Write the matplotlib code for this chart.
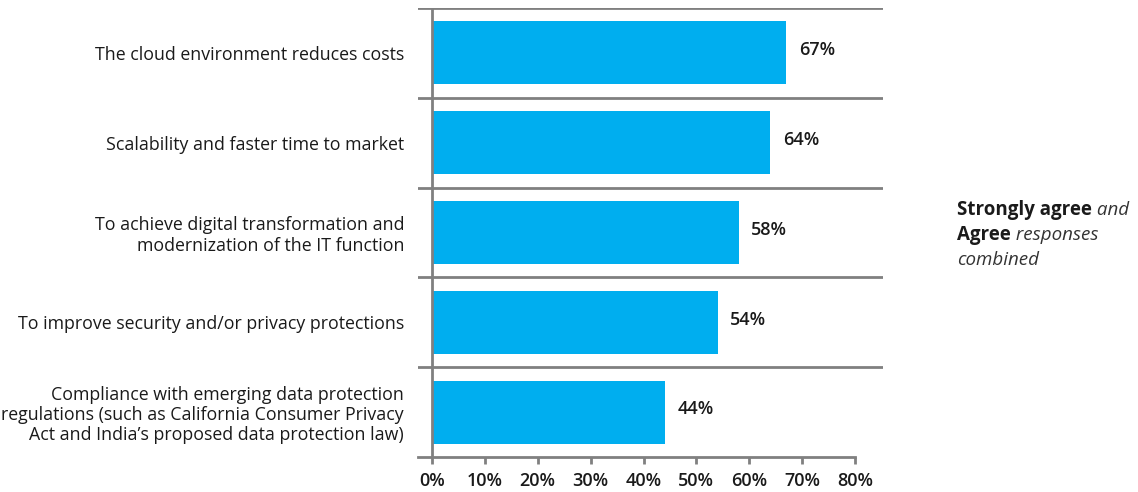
import matplotlib.pyplot as plt
from matplotlib.ticker import FuncFormatter

categories = [
    "The cloud environment reduces costs",
    "Scalability and faster time to market",
    "To achieve digital transformation and\nmodernization of the IT function",
    "To improve security and/or privacy protections",
    "Compliance with emerging data protection\nregulations (such as California Consumer Privacy\nAct and India\u2019s proposed data protection law)",
]
values = [67, 64, 58, 54, 44]
x_ticks = [0, 10, 20, 30, 40, 50, 60, 70, 80]

BAR_COLOR = "#00AEEF"
LINE_COLOR = "#808080"
TEXT_COLOR = "#1a1a1a"

plt.rcParams["font.family"] = ["Open Sans", "DejaVu Sans"]

W, H = 1138, 492
fig = plt.figure(figsize=(W / 100, H / 100), dpi=100)

# axes span the separator lines; the plotted range runs slightly past 0..80
left_px, right_px, top_px, bottom_px = 418, 883, 8, 457
ax = fig.add_axes([left_px / W, 1 - bottom_px / H,
                   (right_px - left_px) / W, (bottom_px - top_px) / H])
px_per_pct = (855 - 432) / 80
x_lo = -(432 - left_px) / px_per_pct
x_hi = 80 + (right_px - 855) / px_per_pct
ax.set_xlim(x_lo, x_hi)

n = len(categories)
ypos = list(range(n))
ax.set_ylim(n - 0.5, -0.5)

ax.barh(ypos, values, height=0.7, color=BAR_COLOR, zorder=2)

for y, v in zip(ypos, values):
    ax.annotate(f"{v}%", xy=(v, y), xytext=(9, 2), textcoords="offset points",
                ha="left", va="center", fontsize=13, fontweight="semibold",
                color=TEXT_COLOR)

# category separators and the zero line
for b in range(n):
    ax.axhline(b - 0.5, color=LINE_COLOR, lw=2, zorder=3)
ax.axvline(0, color=LINE_COLOR, lw=2, zorder=3)

for s in ["top", "right", "left"]:
    ax.spines[s].set_visible(False)
ax.spines["bottom"].set_color(LINE_COLOR)
ax.spines["bottom"].set_linewidth(2)
ax.spines["bottom"].set_bounds(x_lo, 80)

ax.set_xticks(x_ticks)
ax.xaxis.set_major_formatter(FuncFormatter(lambda x, _: f"{x:.0f}%"))
ax.tick_params(axis="x", direction="out", length=5, width=2, color=LINE_COLOR,
               labelsize=13, labelcolor=TEXT_COLOR, pad=6)
for lbl in ax.get_xticklabels():
    lbl.set_fontweight("semibold")

ax.set_yticks(ypos)
ax.set_yticklabels(categories, fontsize=12.8, color=TEXT_COLOR, linespacing=1.15)
ax.tick_params(axis="y", length=0, pad=10)

# side note with mixed bold / italic runs
fig.canvas.draw()
renderer = fig.canvas.get_renderer()
note_x, note_y, line_h = 957, 210, 25
lines = [
    [("Strongly agree", "bold", "normal"), (" and", "normal", "italic")],
    [("Agree", "bold", "normal"), (" responses", "normal", "italic")],
    [("combined", "normal", "italic")],
]
for i, runs in enumerate(lines):
    x = note_x
    y = note_y + i * line_h
    for txt, weight, style in runs:
        t = fig.text(x / W, 1 - y / H, txt, fontsize=13.5, fontweight=weight,
                     fontstyle=style, color="#333333" if style == "italic" else TEXT_COLOR,
                     ha="left", va="center")
        bb = t.get_window_extent(renderer)
        x += bb.width

fig.savefig("out.png", dpi=100)
